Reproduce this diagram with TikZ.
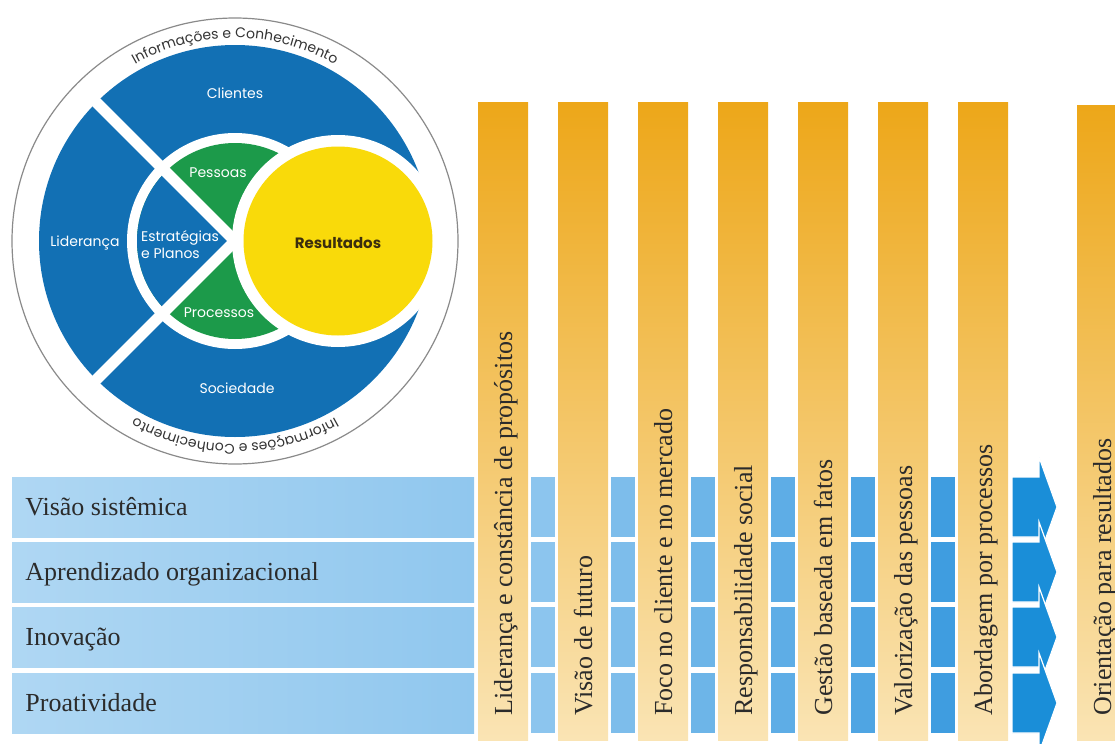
\documentclass[tikz,border=0pt]{standalone}
\usepackage{fontspec}
\setmainfont{Liberation Serif}
\newfontfamily\discfont{Poppins}
\usepackage{tikz}
\usetikzlibrary{calc,decorations.text}

\definecolor{discblue}{HTML}{1270B4}
\definecolor{discgreen}{HTML}{1C9A4A}
\definecolor{discyellow}{HTML}{F9DA0A}
\definecolor{ringgray}{HTML}{8A8A8A}
\definecolor{ringtext}{HTML}{333333}
\definecolor{resulttext}{HTML}{3B2E0E}
\definecolor{textgray}{HTML}{2B2B2B}
\definecolor{barTop}{HTML}{EDA719}
\definecolor{barMid}{HTML}{F4C665}
\definecolor{barBottom}{HTML}{FAE4B4}
\definecolor{rowL}{HTML}{AFD7F3}
\definecolor{rowM}{HTML}{DAEDFA}
\definecolor{rowR}{HTML}{90C7EE}
\definecolor{tileA}{HTML}{8CC5EE}
\definecolor{tileB}{HTML}{7DBDEB}
\definecolor{tileC}{HTML}{6DB5E8}
\definecolor{tileD}{HTML}{5EADE6}
\definecolor{tileE}{HTML}{4FA5E3}
\definecolor{tileF}{HTML}{3F9DE0}
\definecolor{arrowblue}{HTML}{1A8ED8}

\begin{document}
\begin{tikzpicture}[x=0.5pt,y=-0.5pt,
    disclabel/.style={font=\discfont\fontsize{7}{8.5}\selectfont, text=white, inner sep=0pt},
    rowlabel/.style={font=\fontsize{13}{15}\selectfont, text=textgray, inner sep=0pt, anchor=base west},
    barlabel/.style={font=\fontsize{13}{15}\selectfont, text=textgray, inner sep=0pt, rotate=90, anchor=base west},
    orangebar/.style={top color=barTop, middle color=barMid, bottom color=barBottom}]
    \useasboundingbox (0,0) rectangle (1115,744);

    % the disc
    \coordinate (c0) at (235,241);
    \coordinate (c2) at (338,241);
    \draw[ringgray, line width=0.6pt] (c0) circle[radius=223];
    \fill[discblue] (c0) circle[radius=196];
    \fill[white] (c0) circle[radius=108];
    \fill[discgreen] (c0) circle[radius=98];
    \fill[discblue] (c0) -- ($(c0)+(135:98)$) arc[start angle=135, end angle=225, radius=98] -- cycle;
    \draw[white, line width=5.5pt] ($(c0)+(135:200)$) -- (c0) -- ($(c0)+(225:200)$);
    \fill[white] (c2) circle[radius=106];
    \fill[discyellow] (c2) circle[radius=94.5];

    % text round the ring
    \path[decorate, decoration={text along path, text align=center, text color=ringtext,
        text={|\discfont\fontsize{7}{8}\selectfont|Informações e Conhecimento}}]
        ($(c0)+(-119:203)$) arc[start angle=-119, end angle=-61, radius=203];
    \path[decorate, decoration={text along path, text align=center, text color=ringtext,
        text={|\discfont\fontsize{7}{8}\selectfont|Informações e Conhecimento}}]
        ($(c0)+(61:203)$) arc[start angle=61, end angle=119, radius=203];

    \node[disclabel] (clientes) at (235,93) {Clientes};
    \node[disclabel] (lideranca) at (85,243) {Liderança};
    \node[disclabel] (sociedade) at (237,388) {Sociedade};
    \node[disclabel] (pessoas) at (218,173) {Pessoas};
    \node[disclabel, align=left] (estrategias) at (180,245) {Estratégias\\e Planos};
    \node[disclabel] (processos) at (219,313) {Processos};
    \node[disclabel, text=resulttext, font=\discfont\bfseries\fontsize{7.5}{9}\selectfont] (resultados) at (338,243) {Resultados};

    % rows
    \foreach \y in {477,542,607,673}
        \shade[left color=rowL, middle color=rowM, right color=rowR] (12,\y) rectangle (474,\y+60);
    \node[rowlabel] (visao) at (25,515) {Visão sistêmica};
    \node[rowlabel] (aprendizado) at (25,580) {Aprendizado organizacional};
    \node[rowlabel] (inovacao) at (25,645) {Inovação};
    \node[rowlabel] (proatividade) at (25,711) {Proatividade};

    % tiles between the bars
    \foreach \i/\col in {0/tileA,1/tileB,2/tileC,3/tileD,4/tileE,5/tileF} {
        \foreach \y in {477,542,607,673}
            \fill[\col] (531+80*\i,\y) rectangle ++(24,60);
    }

    % arrows
    \foreach \y in {477,542,607,673}
        \filldraw[fill=arrowblue, draw=white, line width=0.6pt] (1012,\y) -- (1039,\y) -- (1039,\y-20)
            -- (1057,\y+30) -- (1039,\y+80) -- (1039,\y+60) -- (1012,\y+60) -- cycle;

    % bars
    \foreach \txt [count=\i from 0] in {Liderança e constância de propósitos, Visão de futuro,
        Foco no cliente e no mercado, Responsabilidade social, Gestão baseada em fatos,
        Valorização das pessoas, Abordagem por processos} {
        \shade[orangebar] (478+80*\i,102) rectangle ++(50,638);
        \node[barlabel] (bar\i) at (512+80*\i,716) {\txt};
    }
    \shade[orangebar] (1077,105) rectangle (1115,740);
    \node[barlabel] (orientacao) at (1111,716) {Orientação para resultados};
\end{tikzpicture}
\end{document}
